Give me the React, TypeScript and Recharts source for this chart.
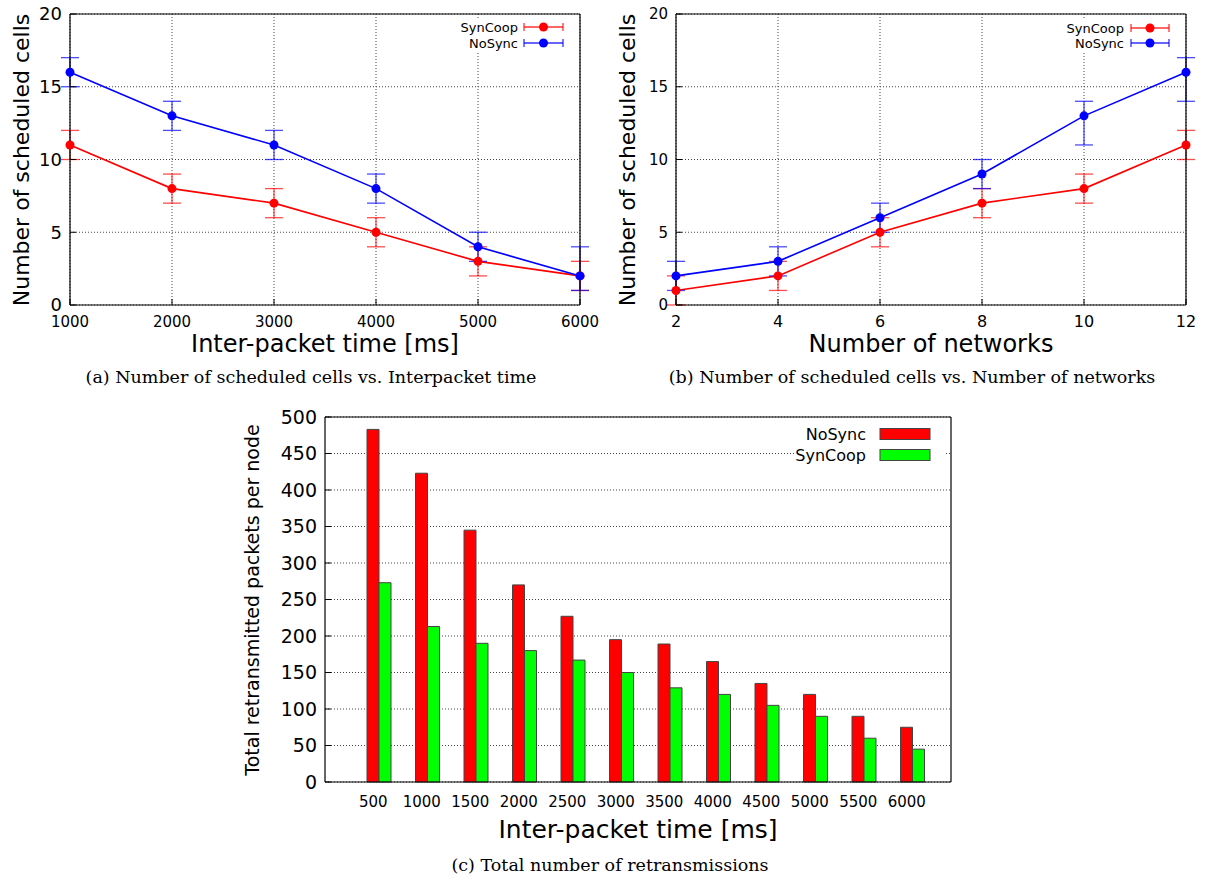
import React from 'react';
import { LineChart, Line, XAxis, YAxis, CartesianGrid, ErrorBar, BarChart, Bar } from 'recharts';

const FONT = '"DejaVu Sans", Verdana, sans-serif';
const SERIF = '"DejaVu Serif", serif';
const RED = '#ff0000';
const BLUE = '#0000ff';
const GREEN = '#00ff00';

// (a) Number of scheduled cells vs inter-packet time
const interPacket = [1000, 2000, 3000, 4000, 5000, 6000];
const synCoopA = [11, 8, 7, 5, 3, 2];
const synCoopALow = [10, 7, 6, 4, 2, 1];
const synCoopAHigh = [12, 9, 8, 6, 4, 3];
const noSyncA = [16, 13, 11, 8, 4, 2];
const noSyncALow = [15, 12, 10, 7, 3, 1];
const noSyncAHigh = [17, 14, 12, 9, 5, 4];

// (b) Number of scheduled cells vs number of networks
const networks = [2, 4, 6, 8, 10, 12];
const synCoopB = [1, 2, 5, 7, 8, 11];
const synCoopBLow = [0, 1, 4, 6, 7, 10];
const synCoopBHigh = [2, 3, 6, 8, 9, 12];
const noSyncB = [2, 3, 6, 9, 13, 16];
const noSyncBLow = [1, 2, 5, 8, 11, 14];
const noSyncBHigh = [3, 4, 7, 10, 14, 17];

const cellTicks = [0, 5, 10, 15, 20];

// (c) Total retransmissions
const retxCategories = ['500', '1000', '1500', '2000', '2500', '3000', '3500', '4000', '4500', '5000', '5500', '6000'];
const noSyncC = [483, 423, 345, 270, 227, 195, 189, 165, 135, 120, 90, 75];
const synCoopC = [273, 213, 190, 180, 167, 150, 129, 120, 105, 90, 60, 45];
const retxTicks = [0, 50, 100, 150, 200, 250, 300, 350, 400, 450, 500];

const buildLineData = (xs: number[], s: number[], sl: number[], sh: number[], n: number[], nl: number[], nh: number[]) =>
  xs.map((x, i) => ({
    x,
    syn: s[i],
    synErr: [s[i] - sl[i], sh[i] - s[i]],
    no: n[i],
    noErr: [n[i] - nl[i], nh[i] - n[i]],
  }));

const dataA = buildLineData(interPacket, synCoopA, synCoopALow, synCoopAHigh, noSyncA, noSyncALow, noSyncAHigh);
const dataB = buildLineData(networks, synCoopB, synCoopBLow, synCoopBHigh, noSyncB, noSyncBLow, noSyncBHigh);
const dataC = retxCategories.map((c, i) => ({ cat: c, noSync: noSyncC[i], synCoop: synCoopC[i] }));

const gridProps = { stroke: '#444', strokeDasharray: '1 2', strokeWidth: 1 };
const axisLine = { stroke: '#000', strokeWidth: 1.2 };

function CellsChart({ data, xTicks, domain, xFont, yFont }: any) {
  return (
    <LineChart width={600} height={360} data={data} margin={{ top: 13, right: 19, bottom: 25, left: 10 }}>
      <CartesianGrid {...gridProps} />
      <XAxis
        dataKey="x"
        type="number"
        domain={domain}
        ticks={xTicks}
        interval={0}
        height={30}
        axisLine={axisLine}
        tickLine={{ stroke: '#000' }}
        tickSize={-6}
        tickMargin={17}
        tick={{ fill: '#000', fontSize: xFont, fontFamily: FONT }}
      />
      <XAxis
        xAxisId="top"
        orientation="top"
        dataKey="x"
        type="number"
        domain={domain}
        ticks={xTicks}
        interval={0}
        height={1}
        axisLine={axisLine}
        tickLine={{ stroke: '#000' }}
        tickSize={-6}
        tick={false}
      />
      <YAxis
        type="number"
        domain={[0, 20]}
        ticks={cellTicks}
        interval={0}
        width={60}
        axisLine={axisLine}
        tickLine={{ stroke: '#000' }}
        tickSize={-6}
        tickMargin={14}
        tick={{ fill: '#000', fontSize: yFont, fontFamily: FONT }}
      />
      <YAxis
        yAxisId="right"
        orientation="right"
        type="number"
        domain={[0, 20]}
        ticks={cellTicks}
        interval={0}
        width={1}
        axisLine={axisLine}
        tickLine={{ stroke: '#000' }}
        tickSize={-6}
        tick={false}
      />
      <Line
        dataKey="syn"
        stroke={RED}
        strokeWidth={1.6}
        dot={{ r: 4.5, fill: RED, stroke: RED, strokeWidth: 0 }}
        activeDot={false}
        isAnimationActive={false}
      >
        <ErrorBar dataKey="synErr" width={9} stroke={RED} strokeOpacity={0.7} strokeWidth={1.3} isAnimationActive={false} />
      </Line>
      <Line
        dataKey="no"
        stroke={BLUE}
        strokeWidth={1.6}
        dot={{ r: 4.5, fill: BLUE, stroke: BLUE, strokeWidth: 0 }}
        activeDot={false}
        isAnimationActive={false}
      >
        <ErrorBar dataKey="noErr" width={9} stroke={BLUE} strokeOpacity={0.7} strokeWidth={1.3} isAnimationActive={false} />
      </Line>
    </LineChart>
  );
}

function RetxChart() {
  return (
    <BarChart width={730} height={440} data={dataC} margin={{ top: 16, right: 18, bottom: 28, left: 15 }} barGap={0} barSize={12}>
      <CartesianGrid {...gridProps} vertical={false} />
      <XAxis
        dataKey="cat"
        type="category"
        interval={0}
        height={30}
        padding={{ left: 24, right: 20 }}
        axisLine={axisLine}
        tickLine={false}
        tickMargin={8}
        tick={{ fill: '#000', fontSize: 15, fontFamily: FONT }}
      />
      <XAxis xAxisId="bars" dataKey="cat" type="category" hide padding={{ left: 30, right: 14 }} />
      <XAxis
        xAxisId="top"
        orientation="top"
        dataKey="cat"
        type="category"
        interval={0}
        height={1}
        padding={{ left: 24, right: 20 }}
        axisLine={axisLine}
        tickLine={{ stroke: '#000' }}
        tickSize={-6}
        tick={false}
      />
      <YAxis
        type="number"
        domain={[0, 500]}
        ticks={retxTicks}
        interval={0}
        width={70}
        axisLine={axisLine}
        tickLine={{ stroke: '#000' }}
        tickSize={-6}
        tickMargin={14}
        tick={{ fill: '#000', fontSize: 19, fontFamily: FONT }}
      />
      <YAxis
        yAxisId="right"
        orientation="right"
        type="number"
        domain={[0, 500]}
        ticks={retxTicks}
        interval={0}
        width={1}
        axisLine={axisLine}
        tickLine={{ stroke: '#000' }}
        tickSize={-6}
        tick={false}
      />
      <Bar xAxisId="bars" dataKey="noSync" fill={RED} stroke="#444" strokeWidth={1} isAnimationActive={false} />
      <Bar xAxisId="bars" dataKey="synCoop" fill={GREEN} stroke="#444" strokeWidth={1} isAnimationActive={false} />
    </BarChart>
  );
}

const abs = (left: number, top: number, extra: any = {}) => ({ position: 'absolute' as const, left, top, ...extra });

function Text({ x, y, size, children, rotate = false, family = FONT }: any) {
  return (
    <div
      style={abs(x, y, {
        transform: `translate(-50%, -50%)${rotate ? ' rotate(-90deg)' : ''}`,
        fontSize: size,
        fontFamily: family,
        whiteSpace: 'nowrap',
        color: '#000',
        lineHeight: 1,
      })}
    >
      {children}
    </div>
  );
}

function ErrLegendRow({ xText, x1, x2, y, color, label }: any) {
  const xm = (x1 + x2) / 2;
  return (
    <g>
      <text x={xText} y={y} textAnchor="end" dominantBaseline="central" fontSize={13} fontFamily={FONT} fill="#000">
        {label}
      </text>
      <line x1={x1} x2={x2} y1={y} y2={y} stroke={color} strokeWidth={1.3} strokeOpacity={0.8} />
      <line x1={x1} x2={x1} y1={y - 4} y2={y + 4} stroke={color} strokeWidth={1.3} strokeOpacity={0.8} />
      <line x1={x2} x2={x2} y1={y - 4} y2={y + 4} stroke={color} strokeWidth={1.3} strokeOpacity={0.8} />
      <circle cx={xm} cy={y} r={4.5} fill={color} />
    </g>
  );
}

function BarLegendRow({ xText, y, color, label }: any) {
  return (
    <g>
      <text x={xText} y={y} textAnchor="end" dominantBaseline="central" fontSize={16} fontFamily={FONT} fill="#000">
        {label}
      </text>
      <rect x={880} y={y - 5.5} width={50} height={11} fill={color} stroke="#444" strokeWidth={1} />
    </g>
  );
}

export default function App() {
  return (
    <div style={{ position: 'absolute', left: 0, top: 0, width: 1206, height: 880, background: '#fff', overflow: 'hidden' }}>
      <div style={abs(0, 0)}>
        <CellsChart data={dataA} xTicks={interPacket} domain={[1000, 6000]} xFont={15} yFont={18} />
      </div>
      <div style={abs(606, 0)}>
        <CellsChart data={dataB} xTicks={networks} domain={[2, 12]} xFont={16} yFont={15} />
      </div>
      <div style={abs(240, 400)}>
        <RetxChart />
      </div>

      <svg width={1206} height={880} style={abs(0, 0, { pointerEvents: 'none' })}>
        <rect x={462} y={19} width={114} height={32} fill="#fff" />
        <ErrLegendRow xText={518} x1={524} x2={563} y={27} color={RED} label="SynCoop" />
        <ErrLegendRow xText={518} x1={524} x2={563} y={43} color={BLUE} label="NoSync" />

        <rect x={1058} y={19} width={124} height={32} fill="#fff" />
        <ErrLegendRow xText={1124} x1={1131} x2={1169} y={28} color={RED} label="SynCoop" />
        <ErrLegendRow xText={1124} x1={1131} x2={1169} y={43} color={BLUE} label="NoSync" />

        <rect x={795} y={424} width={150} height={41} fill="#fff" />
        <BarLegendRow xText={866} y={434} color={RED} label="NoSync" />
        <BarLegendRow xText={866} y={455} color={GREEN} label="SynCoop" />
      </svg>

      <Text x={22} y={160} size={22} rotate>Number of scheduled cells</Text>
      <Text x={325} y={344} size={24}>Inter-packet time [ms]</Text>
      <Text x={628} y={160} size={22} rotate>Number of scheduled cells</Text>
      <Text x={931} y={344} size={24}>Number of networks</Text>
      <Text x={252} y={600} size={19} rotate>Total retransmitted packets per node</Text>
      <Text x={638} y={829} size={25}>Inter-packet time [ms]</Text>

      <Text x={311} y={378} size={17.5} family={SERIF}>(a) Number of scheduled cells vs. Interpacket time</Text>
      <Text x={912} y={378} size={17.5} family={SERIF}>(b) Number of scheduled cells vs. Number of networks</Text>
      <Text x={610} y={866} size={17.5} family={SERIF}>(c) Total number of retransmissions</Text>
    </div>
  );
}
